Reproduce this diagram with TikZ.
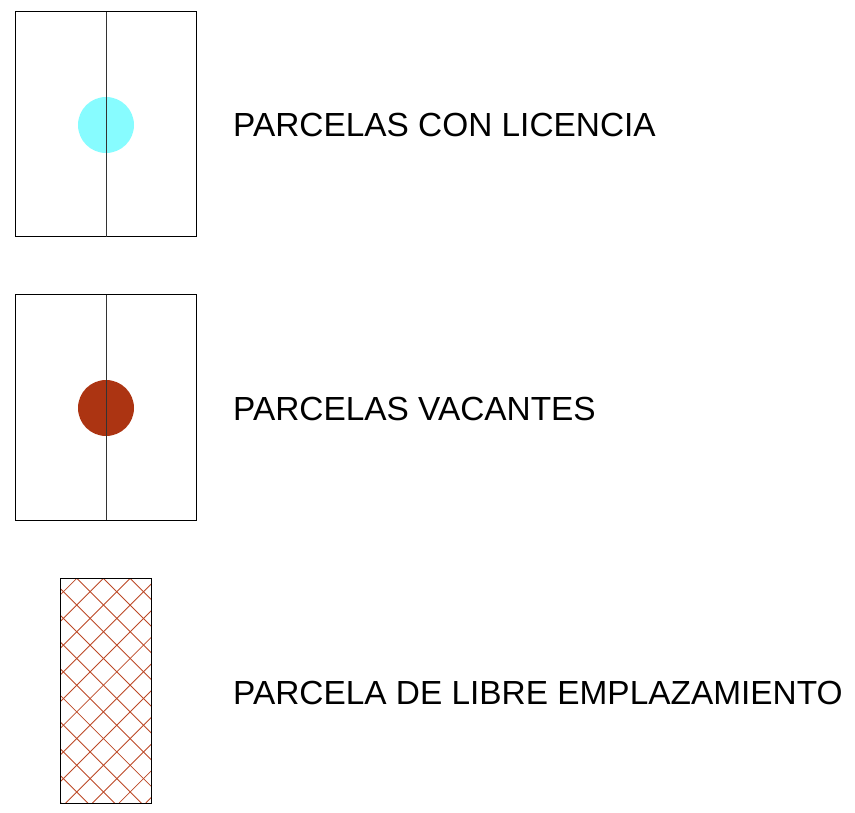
\documentclass[tikz,border=0pt]{standalone}
\usepackage{fontspec}
\setmainfont{Liberation Sans}
\definecolor{cian}{RGB}{135,252,255}
\definecolor{teja}{RGB}{172,52,18}
\definecolor{trama}{RGB}{188,72,38}
\begin{document}
\begin{tikzpicture}[x=1pt,y=-1pt,
        lote/.style={draw=black, line width=1pt},
        marca/.style={circle, minimum size=56pt, inner sep=0pt},
        rotulo/.style={anchor=base west, inner sep=0pt, font=\fontsize{33.4}{36}\selectfont}
    ]
    \useasboundingbox (0,0) rectangle (855,813);
    % parcelas con licencia
    \node[marca, fill=cian] (lic) at (106,125) {};
    \draw[lote] (15,12) rectangle (196,237);
    \draw[lote, draw=black!80] (106,12) -- (106,237);
    \node[rotulo] (tlic) at (233,137) {PARCELAS CON LICENCIA};
    % parcelas vacantes
    \node[marca, fill=teja] (vac) at (106,408) {};
    \draw[lote] (15,295) rectangle (196,520);
    \draw[lote, draw=black!80] (106,295) -- (106,520);
    \node[rotulo] (tvac) at (233,420) {PARCELAS VACANTES};
    % parcela de libre emplazamiento
    \begin{scope}
        \clip (60,578) rectangle (151,803);
        \foreach \k in {-12,...,12}{
            \draw[trama, line width=0.85pt] (60+26.7*\k-10.3,578) -- ++(300,300);
            \draw[trama, line width=0.85pt] (60+26.7*\k-21,803) -- ++(300,-300);
        }
    \end{scope}
    \draw[lote] (60,578) rectangle (151,803);
    \node[rotulo] (tlib) at (233,704) {PARCELA DE LIBRE EMPLAZAMIENTO};
\end{tikzpicture}
\end{document}
